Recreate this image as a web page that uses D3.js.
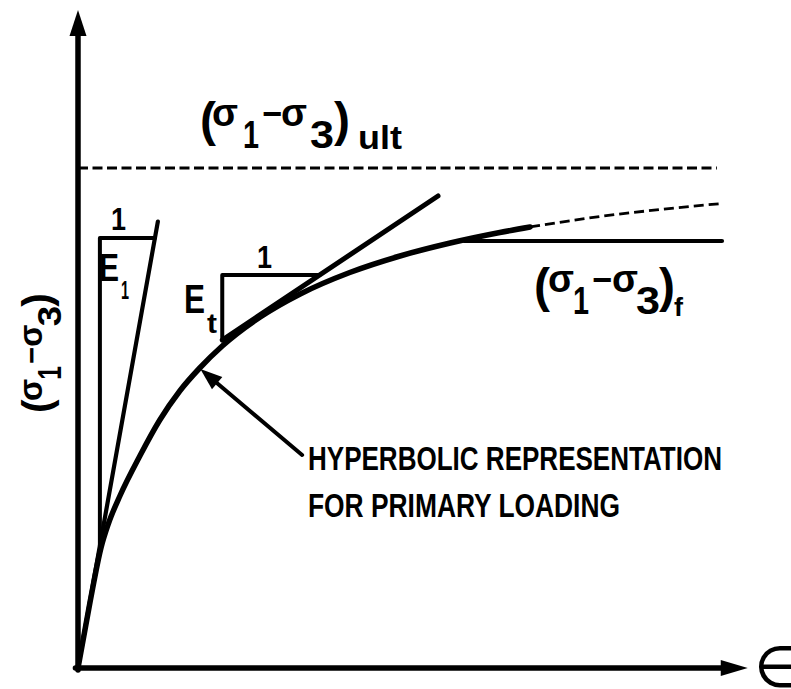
<!DOCTYPE html>
<html>
<head>
<meta charset="utf-8">
<script src="https://cdn.jsdelivr.net/npm/d3@7/dist/d3.min.js"></script>
<style>
  html, body { margin: 0; padding: 0; background: #fff; }
  svg { display: block; }
  text { font-family: "Liberation Sans", Arial, sans-serif; font-weight: bold; fill: #000; }
</style>
</head>
<body>
<svg id="chart" width="791" height="689"></svg>
<script>
// Hyperbolic stress-strain curve for primary loading.
// Strain in arbitrary units, deviator stress as percent of the ultimate value.
const curveStrain = [0, 0.19, 0.36, 0.47, 0.65, 0.96, 1.27, 1.58, 1.89, 2.24, 2.83, 3.45, 4.22, 5.0, 5.78, 6.55, 7.02];
const curveStress = [0, 13.4, 24.2, 28.8, 34.4, 42.4, 49.6, 55.4, 60.0, 64.4, 70.2, 74.8, 79.1, 82.4, 85.0, 87.1, 88.2];
// continuation of the hyperbola beyond failure (dashed)
const extStrain = [7.02, 8.11, 9.04, 10.0];
const extStress = [88.2, 90.3, 91.7, 92.9];

const ultStress = 100;          // (σ1−σ3)ult asymptote
const ultStrain = [0, 9.92];
const failStress = 85.4;        // (σ1−σ3)f
const failStrain = [6.0, 10.0];

const initialModulus = 72;      // Ei : stress per unit strain
const eiLineEnd = 1.24;         // strain where the Ei line stops
const eiTriStrain = 0.34;       // left side of the Ei slope triangle
const eiTriStress = 86;         // top side of the Ei slope triangle

const tangentStrain = [2.24, 5.59]; // Et tangent line
const tangentStress = [65.6, 94.4];
const etTriStress = 78.6;           // top side of the Et slope triangle

const leaderStrain = [3.48, 1.9];   // pointer to the curve
const leaderStress = [42.6, 59.8];

const axisEnd = { strain: 10.4, stress: 131.6 };

const svg = d3.select("#chart");
const x = d3.scaleLinear().domain([0, 10]).range([78, 722]);
const y = d3.scaleLinear().domain([0, 100]).range([668, 168]);

const line = d3.line().x(d => x(d[0])).y(d => y(d[1]));
const smooth = d3.line().x(d => x(d[0])).y(d => y(d[1])).curve(d3.curveMonotoneX);

function seg(pts, w, dash) {
  const p = svg.append("path").attr("d", line(pts)).attr("fill", "none")
    .attr("stroke", "#000").attr("stroke-width", w).attr("stroke-linecap", dash ? "butt" : "round")
    .attr("stroke-linejoin", "round");
  if (dash) p.attr("stroke-dasharray", dash);
  return p;
}

// ---- axes with arrowheads ----
const ax0 = x(0), ay0 = y(0);
seg([[0, -0.4], [0, axisEnd.stress - 4]], 5.5);
seg([[-0.04, 0], [axisEnd.strain - 0.35, 0]], 5.5);
const yTip = y(axisEnd.stress), xTip = x(axisEnd.strain);
svg.append("path").attr("d", `M${ax0},${yTip} L${ax0 + 8.5},${yTip + 26} L${ax0 - 8.5},${yTip + 26}Z`).attr("fill", "#000");
svg.append("path").attr("d", `M${xTip},${ay0} L${xTip - 27},${ay0 + 8} L${xTip - 27},${ay0 - 8}Z`).attr("fill", "#000");

// ---- ultimate asymptote ----
seg(ultStrain.map(s => [s, ultStress]), 3, "10 4.5");

// ---- failure level ----
seg(failStrain.map(s => [s, failStress]), 4.2);

// ---- Ei initial tangent and slope triangle ----
seg([[0, 0], [eiLineEnd, initialModulus * eiLineEnd]], 4.2);
seg([[eiTriStrain, initialModulus * eiTriStrain], [eiTriStrain, eiTriStress], [eiTriStress / initialModulus, eiTriStress]], 4);

// ---- Et tangent and slope triangle ----
const tanSlope = (tangentStress[1] - tangentStress[0]) / (tangentStrain[1] - tangentStrain[0]);
seg(tangentStrain.map((s, i) => [s, tangentStress[i]]), 5);
seg([[tangentStrain[0], tangentStress[0]], [tangentStrain[0], etTriStress],
     [tangentStrain[0] + (etTriStress - tangentStress[0]) / tanSlope, etTriStress]], 4);

// ---- hyperbolic curve ----
svg.append("path").attr("d", smooth(curveStrain.map((s, i) => [s, curveStress[i]])))
  .attr("fill", "none").attr("stroke", "#000").attr("stroke-width", 5.5).attr("stroke-linecap", "round");
svg.append("path").attr("d", smooth(extStrain.map((s, i) => [s, extStress[i]])))
  .attr("fill", "none").attr("stroke", "#000").attr("stroke-width", 2.8).attr("stroke-dasharray", "10 5");

// ---- leader arrow ----
const lx0 = x(leaderStrain[0]), ly0 = y(leaderStress[0]);
const lx1 = x(leaderStrain[1]), ly1 = y(leaderStress[1]);
const ang = Math.atan2(ly1 - ly0, lx1 - lx0);
const hl = 22, hw = 8;
const bx = lx1 - hl * Math.cos(ang), by = ly1 - hl * Math.sin(ang);
svg.append("line").attr("x1", lx0).attr("y1", ly0).attr("x2", bx).attr("y2", by)
  .attr("stroke", "#000").attr("stroke-width", 4).attr("stroke-linecap", "round");
svg.append("path").attr("d",
  `M${lx1},${ly1} L${bx + hw * Math.sin(ang)},${by - hw * Math.cos(ang)} L${bx - hw * Math.sin(ang)},${by + hw * Math.cos(ang)}Z`)
  .attr("fill", "#000");

// ---- text helpers ----
function piece(g, t, px, py, size, len) {
  const el = g.append("text").attr("x", px).attr("y", py).attr("font-size", size).text(t);
  if (len) el.attr("textLength", len).attr("lengthAdjust", "spacingAndGlyphs");
  return el;
}
// (σ1−σ3) with horizontal offsets for each glyph
function stressLabel(g, pos, suffix) {
  piece(g, "(", pos[0], 10, 48);
  piece(g, "σ", pos[1], 0, 38);
  piece(g, "1", pos[2], 22, 38, 16);
  piece(g, "−", pos[3], 0, 36, 20);
  piece(g, "σ", pos[4], 0, 38);
  piece(g, "3", pos[5], 22, 38, 24);
  piece(g, ")", pos[6], 10, 48);
  if (suffix) piece(g, suffix.t, suffix.x, suffix.y, suffix.size, suffix.len);
}

// (σ1−σ3)ult
stressLabel(svg.append("g").attr("transform", "translate(200,126)"),
  [0, 12, 43, 62, 81, 110, 134], { t: "ult", x: 158, y: 23, size: 34, len: 44 });
// (σ1−σ3)f
stressLabel(svg.append("g").attr("transform", "translate(534,292)"),
  [0, 14, 39, 58, 78, 102, 125], { t: "f", x: 140, y: 24, size: 26, len: 9 });
// vertical axis title
stressLabel(svg.append("g").attr("transform", "translate(42,413) rotate(-90) scale(0.85)"),
  [0, 14, 39, 58, 78, 102, 125], null);

// strain symbol
svg.append("text").attr("x", 754).attr("y", 687).attr("font-size", 58)
  .style("font-family", "'DejaVu Sans', sans-serif").style("font-weight", "normal").text("∈");

// Ei / Et slope triangle labels
piece(svg, "1", 111, 230, 32, 15);
piece(svg, "E", 99, 281, 38, 20);
piece(svg, "1", 121, 299, 25, 8);
piece(svg, "1", 257, 268, 32, 15);
piece(svg, "E", 184, 313, 40, 21);
piece(svg, "t", 207, 333, 28, 10);

// curve annotation
piece(svg, "HYPERBOLIC REPRESENTATION", 308, 470, 34, 414);
piece(svg, "FOR PRIMARY LOADING", 308, 517, 34, 312);
</script>
</body>
</html>
